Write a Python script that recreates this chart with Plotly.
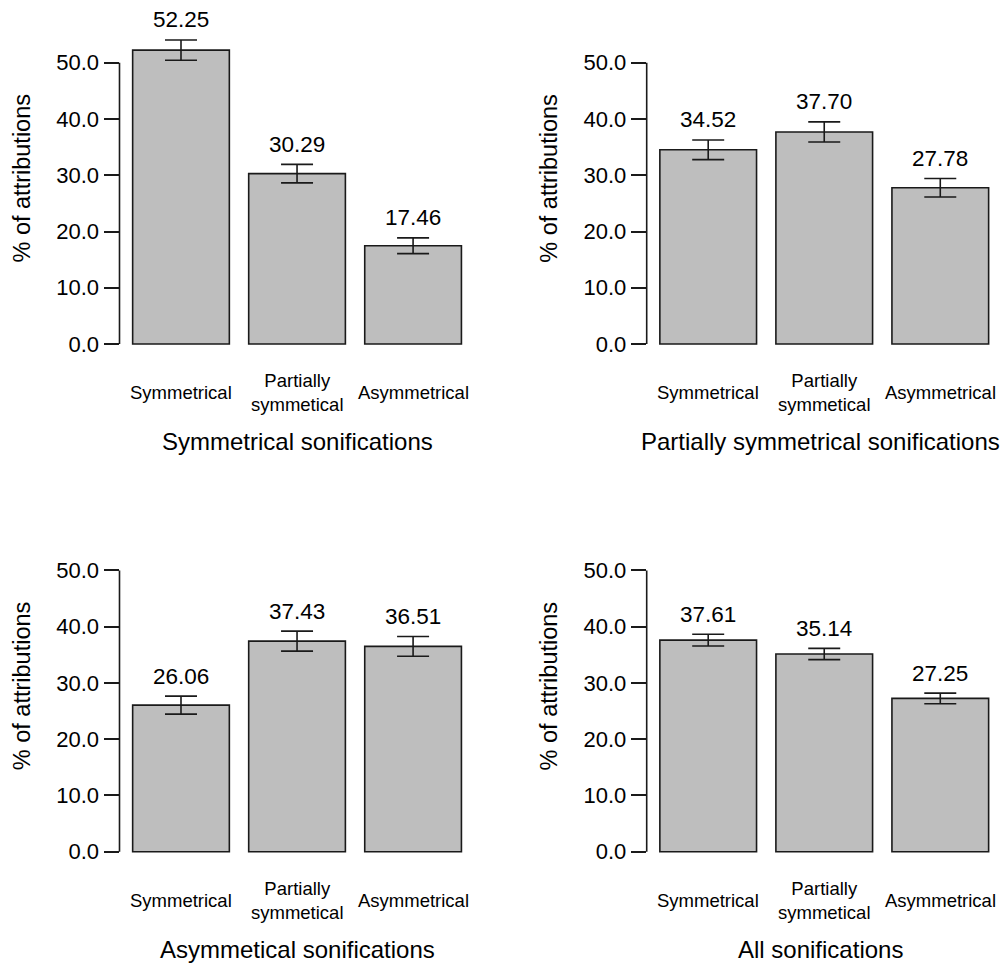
import plotly.graph_objects as go

# ---------------- data ----------------
panel_titles = ["Symmetrical sonifications", "Partially symmetrical sonifications",
                "Asymmetical sonifications", "All sonifications"]
category_labels = ["Symmetrical", "Partially<br>symmetical", "Asymmetrical"]

values_symmetrical = [52.25, 30.29, 17.46]
errors_symmetrical = [1.8, 1.65, 1.4]
values_partial = [34.52, 37.70, 27.78]
errors_partial = [1.75, 1.78, 1.65]
values_asymmetrical = [26.06, 37.43, 36.51]
errors_asymmetrical = [1.6, 1.78, 1.75]
values_all = [37.61, 35.14, 27.25]
errors_all = [1.05, 1.0, 0.95]

y_ticks = [0, 10, 20, 30, 40, 50]
y_title = "% of attributions"

panel_values = [values_symmetrical, values_partial, values_asymmetrical, values_all]
panel_errors = [errors_symmetrical, errors_partial, errors_asymmetrical, errors_all]

# ---------------- layout geometry ----------------
W, H = 1001, 966
FONT = "Liberation Sans, Arial, Helvetica, sans-serif"
INK = "#1a1a1a"
PXX = 96.7     # px per x unit
PXY = 5.625    # px per y unit
XR0, XR1 = 0.064, 3.736
YR0, YR1 = -2, 60
# (y-axis x position in px, zero-line y position in px)
origins = [(119.5, 344.0), (646.7, 344.0), (119.5, 851.7), (646.7, 851.7)]

# barplot-style positions: width 1, space 0.2
n = len(category_labels)
centers = [0.2 + i * 1.2 + 0.5 for i in range(n)]

fig = go.Figure()
layout = dict(width=W, height=H, margin=dict(l=0, r=0, t=0, b=0),
              paper_bgcolor="white", plot_bgcolor="white",
              font=dict(family=FONT, color="black"), showlegend=False)
annotations = []
shapes = []

for k, (ax_px, zero_px) in enumerate(origins):
    sfx = "" if k == 0 else str(k + 1)
    xa, ya = "x" + sfx, "y" + sfx
    x1_px = min(ax_px + (XR1 - XR0) * PXX, W)
    xr1 = XR0 + (x1_px - ax_px) / PXX
    y_top = zero_px - YR1 * PXY
    y_bot = zero_px - YR0 * PXY
    layout["xaxis" + sfx] = dict(domain=[ax_px / W, x1_px / W], range=[XR0, xr1],
                                 anchor=ya, showticklabels=False, ticks="",
                                 showgrid=False, zeroline=False, showline=False,
                                 fixedrange=True)
    layout["yaxis" + sfx] = dict(domain=[1 - y_bot / H, 1 - y_top / H], range=[YR0, YR1],
                                 anchor=xa, tickvals=y_ticks,
                                 ticktext=[f"{t:.1f}" for t in y_ticks],
                                 ticks="outside", ticklen=15, tickwidth=1.6, tickcolor=INK,
                                 tickfont=dict(size=22, color="black"),
                                 showgrid=False, zeroline=False, showline=False,
                                 fixedrange=True)
    vals, errs = panel_values[k], panel_errors[k]
    fig.add_trace(go.Bar(
        x=centers, y=vals, width=1, xaxis=xa, yaxis=ya,
        marker=dict(color="#BEBEBE", line=dict(color=INK, width=1.6)),
        error_y=dict(type="data", array=errs, visible=True, color=INK,
                     thickness=1.6, width=16),
        hoverinfo="skip"))
    # y axis line spanning tick range
    shapes.append(dict(type="line", xref=xa + " domain", yref=ya,
                       x0=0, x1=0, y0=y_ticks[0], y1=y_ticks[-1],
                       line=dict(color=INK, width=1.6)))
    # value labels
    for c, v, e in zip(centers, vals, errs):
        annotations.append(dict(text=f"{v:.2f}", x=c, y=v + e, xref=xa, yref=ya,
                                showarrow=False, yanchor="middle", yshift=20,
                                font=dict(size=22.5, color="black")))
    # category labels
    lab_y = zero_px + 49
    for c, lab in zip(centers, category_labels):
        annotations.append(dict(text=lab, x=c, y=1 - lab_y / H, xref=xa, yref="paper",
                                showarrow=False, yanchor="middle", xanchor="center",
                                font=dict(size=18.5, color="black")))
    # x title
    xc = (ax_px + ax_px + (XR1 - XR0) * PXX) / 2
    if k % 2 == 1:
        xc -= 4
    annotations.append(dict(text=panel_titles[k], x=xc / W, y=1 - (zero_px + 98) / H,
                            xref="paper", yref="paper", showarrow=False,
                            yanchor="middle", xanchor="center",
                            font=dict(size=24, color="black")))
    # y title
    annotations.append(dict(text=y_title, x=(ax_px - 98) / W, y=1 - (zero_px - 166) / H,
                            xref="paper", yref="paper", showarrow=False, textangle=-90,
                            yanchor="middle", xanchor="center",
                            font=dict(size=23.5, color="black")))

layout["annotations"] = annotations
layout["shapes"] = shapes
fig.update_layout(**layout)
fig.write_html("out.html")
